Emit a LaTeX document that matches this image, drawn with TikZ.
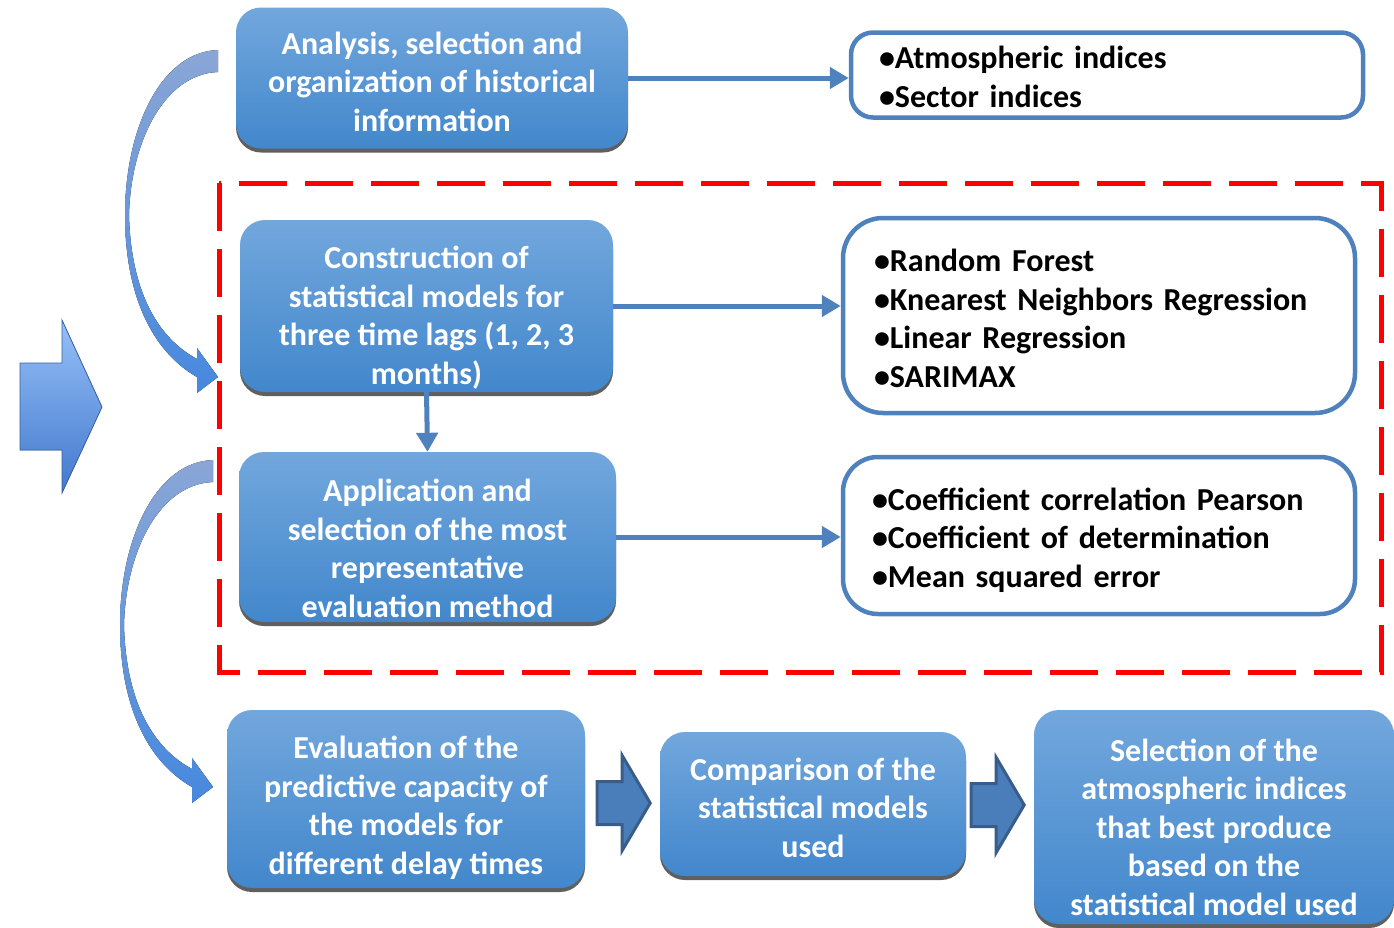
\documentclass[tikz,border=0pt]{standalone}
\usepackage{fontspec}
\setmainfont{Carlito}
\usetikzlibrary{shadows,arrows.meta,calc}
\definecolor{StepTop}{RGB}{114,167,221}
\definecolor{StepBot}{RGB}{66,135,204}
\definecolor{ShadowGray}{RGB}{95,95,95}
\definecolor{LineBlue}{RGB}{79,129,189}
\definecolor{ArrowFill}{RGB}{74,126,187}
\definecolor{ArrowEdge}{RGB}{56,93,138}
\definecolor{CurveTop}{RGB}{138,166,214}
\definecolor{CurveBot}{RGB}{70,136,222}
\definecolor{BigTop}{RGB}{150,192,248}
\definecolor{BigBot}{RGB}{66,120,204}
\newcommand{\BentArrow}{%
(218,50) .. controls (160,52) and (125,130) .. (125,215) %
  .. controls (125,292) and (150,350) .. (197,377) %
-- (197,393) -- (218,377) -- (197,348) -- (197,359) %
  .. controls (158,338) and (131,292) .. (129,215) %
  .. controls (131,140) and (165,74) .. (218,72) -- cycle %
}
\newcommand{\BlockArrow}[1]{%
#1 ++(0,-21.5) -- ++(25,0) -- ++(0,-26) -- ++(28,47.5) %
-- ++(-28,47.5) -- ++(0,-26) -- ++(-25,0) -- cycle %
}
% first-line strut, pushes the text block down by (#1-24)/2
\newcommand{\Drop}[1]{\rule{0pt}{#1pt}}
\tikzset{
  stepbox/.style={rectangle, rounded corners=25pt, top color=StepTop,
    bottom color=StepBot, text=white, align=center, inner sep=0pt,
    font=\bfseries\fontsize{32}{38.5}\selectfont,
    drop shadow={shadow xshift=0pt, shadow yshift=-4pt, fill=ShadowGray, opacity=1}},
  listbox/.style={rectangle, draw=LineBlue, line width=4.5pt, fill=white,
    align=left, text=black, minimum width=512pt,
    font=\bfseries\fontsize{32}{38.5}\selectfont},
  link/.style={draw=LineBlue, line width=5pt, -{Triangle[length=19pt,width=21pt]}},
  blockarrow/.style={fill=ArrowFill, draw=ArrowEdge, line width=3pt, line join=miter},
  bentarrow/.style={top color=CurveTop, middle color=CurveBot!12!white, bottom color=CurveBot},
}
\begin{document}
\begin{tikzpicture}[x=1pt,y=-1pt]
  \useasboundingbox (0,0) rectangle (1394,927);
  \fill[bentarrow] \BentArrow;
  \fill[bentarrow, shift={(-5,410)}] \BentArrow;
  \fill[top color=BigTop, bottom color=BigBot, draw=BigBot!80!black, line width=0.8pt]
    (20,363) -- (62,363) -- (62,320) -- (102,407) -- (62,493) -- (62,450) -- (20,450) -- cycle;
  \draw[red, line width=5pt, dash pattern=on 48pt off 18pt] (219,183) rectangle (1381,672);

  \node[stepbox, minimum width=392pt, minimum height=141pt] (histbox) at (432,78)
    {\Drop{30}Analysis, selection and\\organization of historical\\information};
  \node[stepbox, minimum width=373pt, minimum height=172pt] (modelbox) at (426.5,306)
    {\Drop{46}Construction of\\statistical models for\\three time lags (1, 2, 3\\months)};
  \node[stepbox, minimum width=377pt, minimum height=170pt] (applybox) at (427.5,537)
    {\Drop{45}Application and\\selection of the most\\representative\\evaluation method};
  \node[stepbox, minimum width=358pt, minimum height=178pt] (evalbox) at (406,799)
    {\Drop{40}Evaluation of the\\predictive capacity of\\the models for\\different delay times};
  \node[stepbox, minimum width=306pt, minimum height=144pt] (compbox) at (813,804)
    {\Drop{30}Comparison of the\\statistical models\\used};
  \node[stepbox, minimum width=360pt, minimum height=214pt] (selbox) at (1214,817)
    {\Drop{43}Selection of the\\atmospheric indices\\that best produce\\based on the\\statistical model used};

  \node[listbox, minimum height=85pt, rounded corners=22pt, text width=456pt,
    inner xsep=26pt] (indexlist) at (1107,75)
    {\Drop{26}•Atmospheric indices\\•Sector indices};
  \node[listbox, minimum height=195pt, rounded corners=40pt, text width=450pt,
    inner xsep=29pt] (modellist) at (1099,315.5)
    {\Drop{28}•Random Forest\\•Knearest Neighbors Regression\\•Linear Regression\\•SARIMAX};
  \node[listbox, minimum height=157pt, rounded corners=35pt, text width=454pt,
    inner xsep=27pt] (metriclist) at (1099,535.5)
    {\Drop{32}•Coefficient correlation Pearson\\•Coefficient of determination\\•Mean squared error};

  \draw[link] (histbox.east) -- (histbox.east -| indexlist.west);
  \draw[link] (modelbox.east) -- (modelbox.east -| modellist.west);
  \draw[link] (applybox.east) -- (applybox.east -| metriclist.west);
  \draw[link] (modelbox.south) -- (applybox.north);

  \filldraw[blockarrow] \BlockArrow{($(evalbox.east)+(12,4)$)};
  \filldraw[blockarrow] \BlockArrow{($(compbox.east)+(5,1)$)};
\end{tikzpicture}
\end{document}
